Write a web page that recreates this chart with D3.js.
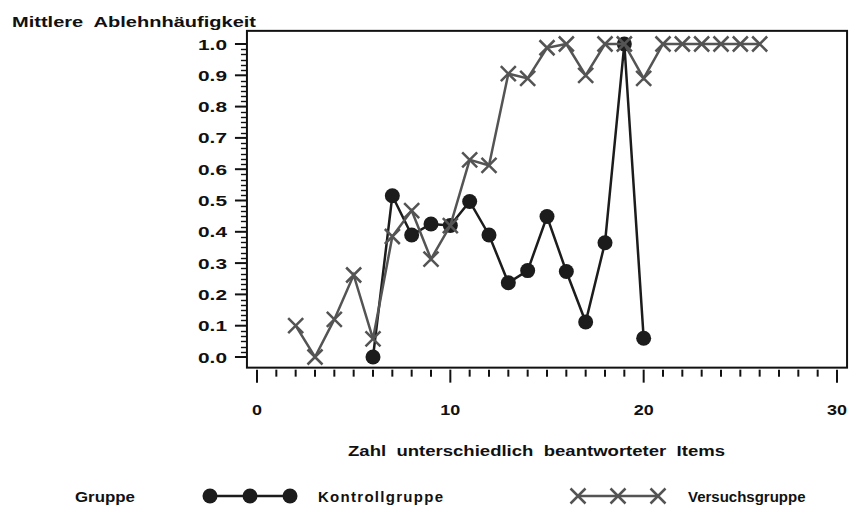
<!DOCTYPE html>
<html>
<head>
<meta charset="utf-8">
<script src="https://cdn.jsdelivr.net/npm/d3@7"></script>
<style>
  html, body { margin: 0; padding: 0; background: #fff; }
  svg { display: block; }
  text { font-family: "Liberation Sans", Arial, Helvetica, sans-serif; font-weight: bold; fill: #111; }
</style>
</head>
<body>
<svg id="chart" width="849" height="509"></svg>
<script>
// Number of differently answered items (x) and mean rejection frequency (y)
const kontrollX = [6, 7, 8, 9, 10, 11, 12, 13, 14, 15, 16, 17, 18, 19, 20];
const kontrollY = [0.00, 0.515, 0.39, 0.425, 0.42, 0.497, 0.39, 0.237, 0.276, 0.449, 0.273, 0.112, 0.365, 1.00, 0.06];

const versuchX = [2, 3, 4, 5, 6, 7, 8, 9, 10, 11, 12, 13, 14, 15, 16, 17, 18, 19, 20, 21, 22, 23, 24, 25, 26];
const versuchY = [0.10, 0.00, 0.12, 0.262, 0.058, 0.385, 0.468, 0.313, 0.42, 0.63, 0.612, 0.905, 0.89, 0.988, 1.00, 0.90, 1.00, 1.00, 0.89, 1.00, 1.00, 1.00, 1.00, 1.00, 1.00];

const xTicks = [0, 10, 20, 30];
const yTicks = [0.0, 0.1, 0.2, 0.3, 0.4, 0.5, 0.6, 0.7, 0.8, 0.9, 1.0];

const yTitle = "Mittlere  Ablehnhäufigkeit";
const xTitle = "Zahl  unterschiedlich  beantworteter  Items";
const legendTitle = "Gruppe";
const seriesNames = ["Kontrollgruppe", "Versuchsgruppe"];

const svg = d3.select("#chart");

const x = d3.scaleLinear().domain([0, 30]).range([257, 837]);
const y = d3.scaleLinear().domain([0, 1]).range([357, 44]);

// plot frame
const frame = { x0: x(-0.52), x1: x(30.52), y0: y(1.042), y1: y(-0.034) };

const darkCol = "#1c1c1c";
const greyCol = "#545454";
const lw = 2.5;

// text helper: bold label fitted to a given width
function label(xp, yp, str, size, width, anchor, adjust) {
  const t = svg.append("text")
    .attr("x", xp).attr("y", yp)
    .attr("text-anchor", anchor || "start")
    .attr("xml:space", "preserve")
    .style("font-size", size + "px")
    .style("white-space", "pre")
    .text(str);
  if (width) t.attr("textLength", width).attr("lengthAdjust", adjust || "spacingAndGlyphs");
  return t;
}

// y axis ticks (major + minor) outside the frame
const yMinor = d3.range(0, 1.0001, 0.1 / 6).filter(v => Math.abs(Math.round(v * 10) - v * 10) > 1e-6);
svg.append("g").selectAll("line").data(yMinor).join("line")
  .attr("x1", frame.x0 - 6).attr("x2", frame.x0)
  .attr("y1", d => Math.round(y(d)) + 0.5).attr("y2", d => Math.round(y(d)) + 0.5)
  .attr("stroke", "#111").attr("stroke-width", 1.4);
svg.append("g").selectAll("line").data(yTicks).join("line")
  .attr("x1", frame.x0 - 12).attr("x2", frame.x0)
  .attr("y1", d => y(d)).attr("y2", d => y(d))
  .attr("stroke", "#111").attr("stroke-width", 2);
yTicks.forEach(d => label(227, y(d) + 5.5, d3.format(".1f")(d), 15.5, 29, "end"));

// x axis ticks below the frame
const xMinor = d3.range(0, 31).filter(v => v % 10 !== 0);
svg.append("g").selectAll("line").data(xMinor).join("line")
  .attr("x1", d => x(d)).attr("x2", d => x(d))
  .attr("y1", frame.y1 + 2).attr("y2", frame.y1 + 9)
  .attr("stroke", "#111").attr("stroke-width", 2);
svg.append("g").selectAll("line").data(xTicks).join("line")
  .attr("x1", d => x(d)).attr("x2", d => x(d))
  .attr("y1", frame.y1 + 2).attr("y2", frame.y1 + 15)
  .attr("stroke", "#111").attr("stroke-width", 2);
xTicks.forEach(d => label(x(d), 415, String(d), 15.5, String(d).length * 10, "middle"));

// frame
svg.append("rect")
  .attr("x", frame.x0).attr("y", frame.y0)
  .attr("width", frame.x1 - frame.x0).attr("height", frame.y1 - frame.y0)
  .attr("fill", "none").attr("stroke", "#111").attr("stroke-width", 2);

// axis titles
label(12, 27, yTitle, 15, 244);
label(348, 456, xTitle, 15, 377);

const line = d3.line().x(d => x(d[0])).y(d => y(d[1]));
const crossPath = s => `M${-s},${-s}L${s},${s}M${-s},${s}L${s},${-s}`;

// Kontrollgruppe: black line with filled dots
const kData = kontrollX.map((v, i) => [v, kontrollY[i]]);
svg.append("path").datum(kData)
  .attr("d", line).attr("fill", "none")
  .attr("stroke", darkCol).attr("stroke-width", lw);
svg.append("g").selectAll("circle").data(kData).join("circle")
  .attr("cx", d => x(d[0])).attr("cy", d => y(d[1])).attr("r", 7.5)
  .attr("fill", darkCol);

// Versuchsgruppe: grey line with crosses
const vData = versuchX.map((v, i) => [v, versuchY[i]]);
svg.append("path").datum(vData)
  .attr("d", line).attr("fill", "none")
  .attr("stroke", greyCol).attr("stroke-width", lw);
svg.append("g").selectAll("path").data(vData).join("path")
  .attr("transform", d => `translate(${x(d[0])},${y(d[1])})`)
  .attr("d", crossPath(7.5))
  .attr("fill", "none").attr("stroke", greyCol).attr("stroke-width", lw);

// legend
const legY = 496;
label(75, legY + 6, legendTitle, 15, 60);

const legK = [210, 250, 290];
svg.append("line").attr("x1", legK[0]).attr("x2", legK[2]).attr("y1", legY).attr("y2", legY)
  .attr("stroke", darkCol).attr("stroke-width", lw);
svg.append("g").selectAll("circle").data(legK).join("circle")
  .attr("cx", d => d).attr("cy", legY).attr("r", 7.5).attr("fill", darkCol);
label(318, legY + 6, seriesNames[0], 15, 125, "start", "spacing");

const legV = [578, 618, 658];
svg.append("line").attr("x1", legV[0]).attr("x2", legV[2]).attr("y1", legY).attr("y2", legY)
  .attr("stroke", greyCol).attr("stroke-width", lw);
svg.append("g").selectAll("path").data(legV).join("path")
  .attr("transform", d => `translate(${d},${legY})`)
  .attr("d", crossPath(7.5))
  .attr("fill", "none").attr("stroke", greyCol).attr("stroke-width", lw);
label(688, legY + 6, seriesNames[1], 15);
</script>
</body>
</html>
